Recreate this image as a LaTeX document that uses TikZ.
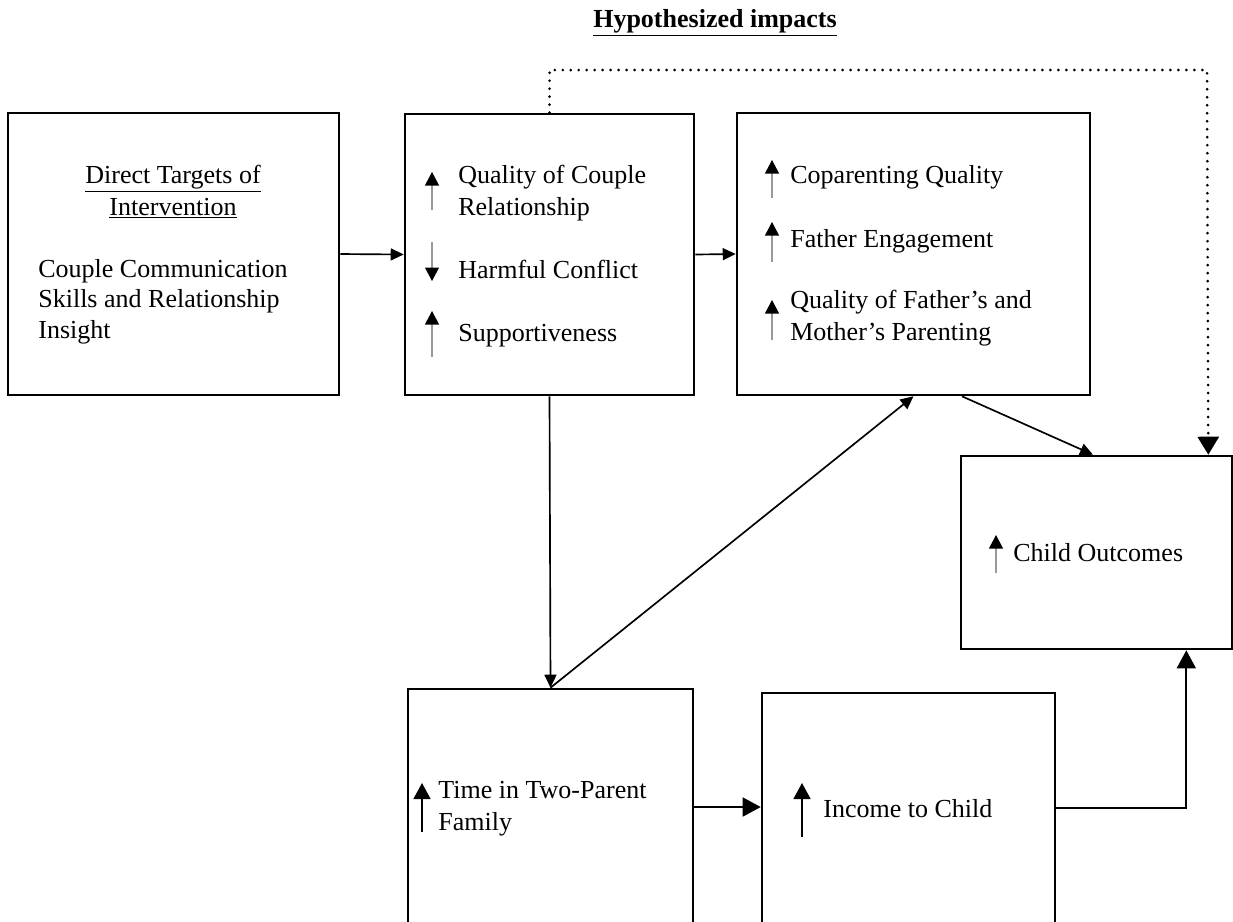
\documentclass[tikz,border=0pt]{standalone}
\usepackage{fontspec}
\setmainfont{Liberation Serif}
\usetikzlibrary{arrows.meta}
\tikzset{
  box/.style={draw, line width=1.5pt, inner sep=0pt, fill=none},
  txt/.style={inner sep=0pt, anchor=base west, font=\fontsize{14.8}{17}\selectfont},
  conn/.style={line width=0.95pt, -{Triangle[length=0.26cm, width=0.24cm]}},
  bigconn/.style={line width=0.95pt, -{Triangle[length=0.36cm, width=0.38cm]}},
  dotline/.style={line width=1.7pt, line cap=round, dash pattern=on 0pt off 4.55pt, -{Triangle[length=0.36cm, width=0.42cm, line cap=butt, sep=0pt]}},
  gup/.style={draw=black!40, line width=0.6pt, -{Triangle[length=0.27cm, width=0.28cm, color=black]}},
  bup/.style={draw=black, line width=0.8pt, -{Triangle[length=0.32cm, width=0.34cm]}},
}
\begin{document}
\begin{tikzpicture}[x=0.02cm, y=-0.02cm]
\useasboundingbox (0,0) rectangle (1233,921);
\clip (0,0) rectangle (1233,921);

% title
\node[inner sep=0pt, anchor=base, font=\fontsize{14.8}{17}\selectfont\bfseries] (title) at (715,27) {\underline{Hypothesized impacts}};

% boxes
\node[box, minimum width=6.62cm, minimum height=5.64cm] (b1) at (173.5,254) {};
\node[box, minimum width=5.78cm, minimum height=5.62cm] (b2) at (549.5,254.5) {};
\node[box, minimum width=7.06cm, minimum height=5.64cm] (b3) at (913.5,254) {};
\node[box, minimum width=5.42cm, minimum height=3.86cm] (child) at (1096.5,552.5) {};
\node[box, minimum width=5.70cm, minimum height=5.42cm] (time) at (550.5,824.5) {};
\node[box, minimum width=5.86cm, minimum height=5.34cm] (income) at (908.5,826.5) {};

% box 1 text
\node[txt, anchor=base] (t1a) at (173,183) {\underline{Direct Targets of}};
\node[txt, anchor=base] (t1b) at (173,215) {\underline{Intervention}};
\node[txt] (t1c) at (38,277) {Couple Communication};
\node[txt] (t1d) at (38,307) {Skills and Relationship};
\node[txt] (t1e) at (38,338) {Insight};

% box 2 text
\node[txt] (t2a) at (458,183) {Quality of Couple};
\node[txt] (t2b) at (458,215) {Relationship};
\node[txt] (t2c) at (458,278) {Harmful Conflict};
\node[txt] (t2d) at (458,341) {Supportiveness};
\draw[gup] (432,210) -- (432,172);
\draw[gup] (432,242) -- (432,281);
\draw[gup] (432,357) -- (432,311);

% box 3 text
\node[txt] (t3a) at (790,183) {Coparenting Quality};
\node[txt] (t3b) at (790,247) {Father Engagement};
\node[txt] (t3c) at (790,308) {Quality of Father’s and};
\node[txt] (t3d) at (790,340) {Mother’s Parenting};
\draw[gup] (772,198) -- (772,160);
\draw[gup] (772,262) -- (772,222);
\draw[gup] (772,340) -- (772,300);

% child outcomes
\node[txt] (t4a) at (1013,561) {Child Outcomes};
\draw[gup] (996,573) -- (996,535);

% time
\node[txt] (t5a) at (438,798) {Time in Two-Parent};
\node[txt] (t5b) at (438,830) {Family};
\draw[bup] (422,832) -- (422,783);

% income
\node[txt] (t6a) at (823,817) {Income to Child};
\draw[bup] (802,837) -- (802,783);

% connectors
\draw[conn] (b1.east) -- (b2.west);
\draw[conn] (b2.east) -- (b3.west);
\draw[conn] (b2.south) -- (time.north);
\draw[conn] (time.north) -- (b3.south);
\draw[conn] ([xshift=0.97cm]b3.south) -- ([xshift=-0.07cm]child.north);
\coordinate (dtop) at (1207,70);
\draw[dotline] (b2.north) |- (dtop) -- ([xshift=-0.5cm]child.north east);
\draw[bigconn] ([yshift=0.35cm]time.east) -- ([yshift=0.35cm]time.east -| income.west);
\draw[bigconn] ([yshift=0.37cm]income.east) -| ([xshift=-0.94cm]child.south east);
\end{tikzpicture}
\end{document}
